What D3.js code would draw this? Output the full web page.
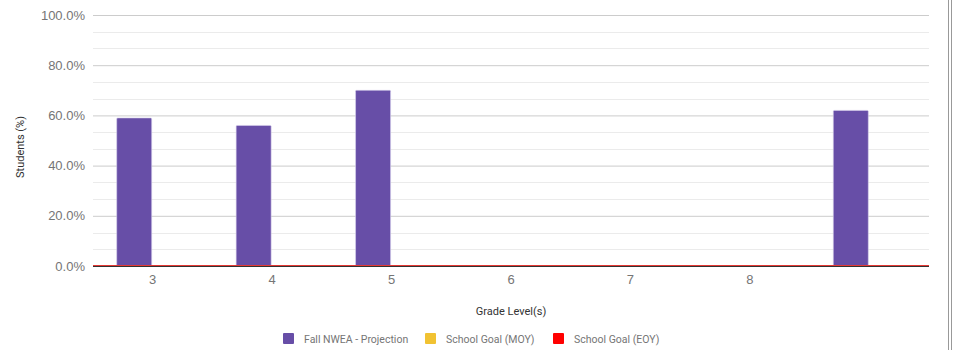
<!DOCTYPE html>
<html>
<head>
<meta charset="utf-8">
<script src="https://cdn.jsdelivr.net/npm/d3@7"></script>
<style>
  html, body { margin: 0; padding: 0; background: #fff; }
  svg { display: block; font-family: Roboto, "Noto Sans", Arial, sans-serif; }
</style>
</head>
<body>
<svg id="chart" width="959" height="350"></svg>
<script>
// Grade levels along the x axis (last group carries no label)
const grades = ["3", "4", "5", "6", "7", "8", ""];
// Percent of students per grade for each series
const fallProjection = [59, 56, 70, 0, 0, 0, 62];
const goalMOY = [0, 0, 0, 0, 0, 0, 0];
const goalEOY = [0, 0, 0, 0, 0, 0, 0];
const yTicks = [0, 20, 40, 60, 80, 100];
const seriesNames = ["Fall NWEA - Projection", "School Goal (MOY)", "School Goal (EOY)"];
const seriesColors = ["#674ea7", "#f1c232", "#ff0000"];

const svg = d3.select("#chart");
const margin = { left: 93, right: 30, top: 15, bottom: 84 };
const W = 959, H = 350;
const plotRight = W - margin.right;
const plotBottom = H - margin.bottom;

const x = d3.scaleBand().domain(grades.map((g, i) => i)).range([margin.left, plotRight]).paddingInner(0).paddingOuter(0);
const y = d3.scaleLinear().domain([0, 100]).range([plotBottom, margin.top]);

// minor gridlines (three subdivisions per major step)
const minor = d3.range(0, 100.001, 20 / 3).filter(v => Math.abs(v / 20 - Math.round(v / 20)) > 1e-6);
svg.append("g").selectAll("line").data(minor).join("line")
  .attr("x1", margin.left).attr("x2", plotRight)
  .attr("y1", d => Math.round(y(d)) + 0.5).attr("y2", d => Math.round(y(d)) + 0.5)
  .attr("stroke", "#ebebeb").attr("stroke-width", 1);

// major gridlines + labels
const yAxis = d3.axisLeft(y).tickValues(yTicks).tickSize(-(plotRight - margin.left))
  .tickFormat(d => d.toFixed(1) + "%").tickPadding(8);
const gy = svg.append("g").attr("transform", `translate(${margin.left},0)`).call(yAxis);
gy.select(".domain").remove();
gy.selectAll(".tick line").attr("stroke", "#cccccc");
gy.selectAll(".tick text").attr("fill", "#757575").attr("font-size", 13);

// bars: grouped by grade, three series side by side
const groupW = x.bandwidth();
const barW = 35;
const series = [fallProjection, goalMOY, goalEOY];
series.forEach((vals, si) => {
  svg.append("g").selectAll("rect").data(vals).join("rect")
    .attr("x", (d, i) => x(i) + groupW / 2 - barW - 1 + si * barW)
    .attr("y", d => y(d))
    .attr("width", barW)
    .attr("height", d => y(0) - y(d))
    .attr("fill", seriesColors[si])
    .attr("stroke", d => d > 0 ? "#d9d2ec" : "none")
    .attr("stroke-width", 0.6)
    .attr("rx", 1);
});

// baseline: axis line with goal line resting on it
svg.append("line").attr("x1", margin.left).attr("x2", plotRight)
  .attr("y1", y(0) + 0.5).attr("y2", y(0) + 0.5)
  .attr("stroke", "#333333").attr("stroke-width", 1);
svg.append("line").attr("x1", margin.left).attr("x2", plotRight)
  .attr("y1", y(0) - 0.5).attr("y2", y(0) - 0.5)
  .attr("stroke", "#e53935").attr("stroke-width", 1);

// x axis labels, centred on each grade group
const xAxis = d3.axisBottom(x).tickFormat(i => grades[i]).tickSize(0).tickPadding(9);
const gx = svg.append("g").attr("transform", `translate(0,${plotBottom})`).call(xAxis);
gx.select(".domain").remove();
gx.selectAll(".tick text").attr("fill", "#757575").attr("font-size", 13);

// axis titles
svg.append("text").attr("x", 511).attr("y", 315).attr("text-anchor", "middle")
  .attr("font-size", 11).attr("fill", "#333").text("Grade Level(s)");
svg.append("text").attr("transform", "translate(24,147) rotate(-90)").attr("text-anchor", "middle")
  .attr("font-size", 11).attr("fill", "#333").text("Students (%)");

// legend
const legendX = [283, 425, 553];
const lg = svg.append("g");
seriesNames.forEach((name, i) => {
  lg.append("rect").attr("x", legendX[i]).attr("y", 333).attr("width", 11).attr("height", 11)
    .attr("fill", seriesColors[i]).attr("rx", 1);
  lg.append("text").attr("x", legendX[i] + 21).attr("y", 343)
    .attr("font-size", 10.5).attr("fill", "#757575").text(name);
});

// right-hand frame edge
svg.append("line").attr("x1", 948.5).attr("x2", 948.5).attr("y1", 0).attr("y2", H)
  .attr("stroke", "#999").attr("stroke-width", 1);
svg.append("line").attr("x1", 951.5).attr("x2", 951.5).attr("y1", 0).attr("y2", H)
  .attr("stroke", "#999").attr("stroke-width", 1);
</script>
</body>
</html>
